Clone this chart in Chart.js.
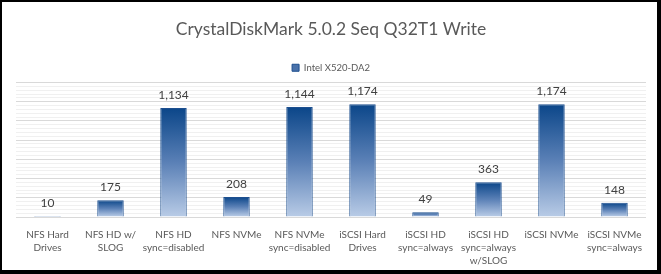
<!DOCTYPE html>
<html lang="en">
<head>
    <meta charset="UTF-8">
    <title>CrystalDiskMark 5.0.2 Seq Q32T1 Write</title>
    <script src="https://cdn.jsdelivr.net/npm/chart.js@4.4.1/dist/chart.umd.min.js"></script>
    <style>
        body {
            margin: 0;
            background-color: #000;
            width: 661px;
            height: 274px;
            overflow: hidden;
        }
        .chart-box {
            position: absolute;
            left: 2px;
            top: 2px;
            width: 655px;
            height: 268px;
            background-color: #fff;
        }
    </style>
</head>
<body>
    <div class="chart-box">
        <canvas id="writeChart" width="655" height="268"></canvas>
    </div>

    <script>
        const categories = [
            ['NFS Hard', 'Drives'],
            ['NFS HD w/', 'SLOG'],
            ['NFS HD', 'sync=disabled'],
            ['NFS NVMe'],
            ['NFS NVMe', 'sync=disabled'],
            ['iSCSI Hard', 'Drives'],
            ['iSCSI HD', 'sync=always'],
            ['iSCSI HD', 'sync=always', 'w/SLOG'],
            ['iSCSI NVMe'],
            ['iSCSI NVMe', 'sync=always']
        ];
        const seriesName = 'Intel X520-DA2';
        const writeSpeeds = [10, 175, 1134, 208, 1144, 1174, 49, 363, 1174, 148];
        const axisMax = 1400;
        const majorStep = 200;
        const minorStep = 40;

        const FONT = 'Lato, "Open Sans", sans-serif';

        // each bar gets its own top-to-bottom gradient, like the Excel fill
        const barGradient = {
            id: 'barGradient',
            beforeDatasetsDraw(chart) {
                const c = chart.ctx;
                chart.getDatasetMeta(0).data.forEach(bar => {
                    const g = c.createLinearGradient(0, bar.y, 0, bar.base);
                    g.addColorStop(0, '#0b4689');
                    g.addColorStop(0.5, '#5a80b6');
                    g.addColorStop(1, '#b8cbe6');
                    bar.options.backgroundColor = g;
                });
            }
        };

        const valueLabels = {
            id: 'valueLabels',
            afterDatasetsDraw(chart) {
                const c = chart.ctx;
                c.save();
                c.font = '12px ' + FONT;
                c.fillStyle = '#404040';
                c.textAlign = 'center';
                c.textBaseline = 'middle';
                chart.getDatasetMeta(0).data.forEach((bar, i) => {
                    c.fillText(writeSpeeds[i].toLocaleString('en-US'), bar.x, bar.y - 13);
                });
                c.restore();
            }
        };

        new Chart(document.getElementById('writeChart'), {
            type: 'bar',
            data: {
                labels: categories,
                datasets: [{
                    label: seriesName,
                    data: writeSpeeds,
                    // scriptable so every bar keeps its own options object
                    backgroundColor: () => '#5a80b6',
                    borderColor: '#1d4f8f',
                    borderWidth: 1,
                    categoryPercentage: 1,
                    barPercentage: 0.42
                }]
            },
            options: {
                responsive: false,
                animation: false,
                devicePixelRatio: 1,
                layout: {
                    padding: { left: 14, right: 11, top: 0, bottom: 0 }
                },
                plugins: {
                    title: {
                        display: true,
                        text: 'CrystalDiskMark 5.0.2 Seq Q32T1 Write',
                        color: '#595959',
                        font: { family: FONT, size: 17.5, weight: 'normal', lineHeight: 1.2 },
                        padding: { top: 17, bottom: 17 }
                    },
                    legend: {
                        display: true,
                        labels: {
                            color: '#595959',
                            font: { family: FONT, size: 9.5 },
                            boxWidth: 7,
                            boxHeight: 7,
                            padding: 6,
                            generateLabels: () => [{
                                text: seriesName,
                                fillStyle: '#4a72aa',
                                strokeStyle: '#1d4f8f',
                                lineWidth: 1,
                                fontColor: '#595959'
                            }]
                        }
                    },
                    tooltip: { enabled: false }
                },
                scales: {
                    x: {
                        grid: { display: false, drawTicks: false },
                        border: { display: false },
                        afterFit: scale => { scale.height = 53; },
                        ticks: {
                            autoSkip: false,
                            maxRotation: 0,
                            padding: 11,
                            color: '#595959',
                            font: { family: FONT, size: 10, lineHeight: '13px' }
                        }
                    },
                    y: {
                        min: 0,
                        max: axisMax,
                        border: { display: false },
                        grid: {
                            drawTicks: false,
                            tickLength: 0,
                            color: ctx => (ctx.tick && ctx.tick.value % majorStep === 0) ? '#d9d9d9' : '#f0f0f0'
                        },
                        ticks: { display: false, stepSize: minorStep }
                    }
                }
            },
            plugins: [barGradient, valueLabels]
        });
    </script>
</body>
</html>
